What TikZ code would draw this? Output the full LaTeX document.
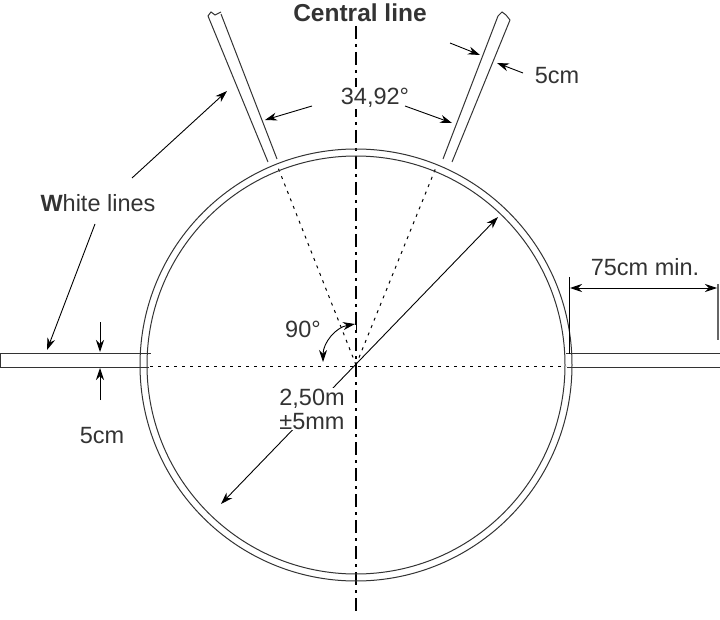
\documentclass[tikz,border=0pt]{standalone}
\usepackage{fontspec}
\setmainfont{Liberation Sans}
\usetikzlibrary{arrows.meta}
\begin{document}
\begin{tikzpicture}[x=1pt,y=-1pt,
  band/.style={draw=black!80,line width=1pt},
  dim/.style={-{Stealth[length=12pt,width=8pt]},line width=0.9pt},
  ddim/.style={{Stealth[length=12pt,width=8pt]}-{Stealth[length=12pt,width=8pt]},line width=0.9pt},
  lab/.style={font=\fontsize{23.5}{25}\selectfont,text=black!80},
  dotl/.style={line width=1pt,dash pattern=on 3pt off 5pt}]
\useasboundingbox (0,0) rectangle (720,620);
\coordinate (c) at (356,365);
% centre line and dotted lines
\draw[line width=1.2pt,dash pattern=on 13pt off 5pt on 3pt off 5pt] (356,26) -- (356,615);
\draw[dotl] (150,366) -- (566,366);
\draw[dotl] (c) -- (277,165);
\draw[dotl] (c) -- (437,165);
% circle
\draw[band] (c) circle (216);
\draw[band] (c) circle (209);
% sector bands
\draw[band] (268,162) -- (208,16) (277,159) -- (221,14);
\draw[band] (208,16) -- (211,12) -- (215,15) -- (221,12);
\draw[band] (443,159) -- (498,16) (452,162) -- (510,20);
\draw[band] (498,16) -- (502,12) -- (506,15) -- (510,20);
% horizontal bands
\draw[band] (0,353) -- (151,353) (0,367) -- (149,367) (0,353) -- (0,367);
\draw[band] (566,353) -- (720,353) (567,367) -- (720,367);
% labels
\node[font=\fontsize{24.5}{26}\selectfont\bfseries,text=black!80] (cl) at (360,13) {Central line};
\node[lab,fill=white,inner sep=1pt] (ang) at (375,98) {34,92°};
\coordinate (a1) at (312,106); \coordinate (a2) at (265,120);
\coordinate (a3) at (405,106); \coordinate (a4) at (452,123);
\draw[dim] (a1) -- (a2); \draw[dim] (a3) -- (a4);
% 5cm top right
\coordinate (b1) at (450,43); \coordinate (b2) at (480,55);
\coordinate (b3) at (523,73); \coordinate (b4) at (497,63);
\draw[dim] (b1) -- (b2); \draw[dim] (b3) -- (b4);
\node[lab] (t5a) at (557,76) {5cm};
% white lines
\node[lab] (wl) at (98,203) {\textbf{W}hite lines};
\coordinate (w1) at (132,178); \coordinate (w2) at (227,91);
\coordinate (w3) at (95,224); \coordinate (w4) at (47,350);
\draw[dim] (w1) -- (w2); \draw[dim] (w3) -- (w4);
% 5cm left
\coordinate (l1) at (100,322); \coordinate (l2) at (100,352);
\coordinate (l3) at (100,400); \coordinate (l4) at (100,368);
\draw[dim] (l1) -- (l2); \draw[dim] (l3) -- (l4);
\node[lab] (t5b) at (102,436) {5cm};
% 90 deg
\node[lab] (n90) at (303,329) {90°};
\coordinate (r1) at (355,324); \coordinate (r2) at (323,362);
\draw[ddim] (r1) to[bend right=40] (r2);
\draw[line width=1pt] (356,318) -- (356,331);
% radius
\coordinate (d1) at (221,504); \coordinate (d2) at (498,217);
\draw[ddim] (d1) -- (d2);
\node[lab,fill=white,align=center,inner sep=1pt] (rad) at (312,409) {2,50m\\[-1pt]±5mm};
% 75cm min
\draw[line width=1pt] (569,277) -- (569,354);
\draw[line width=2.5pt,black!60] (718,284) -- (718,340);
\coordinate (m1) at (570,288); \coordinate (m2) at (717,288);
\draw[ddim] (m1) -- (m2);
\node[lab] (t75) at (645,267) {75cm min.};
\end{tikzpicture}
\end{document}
